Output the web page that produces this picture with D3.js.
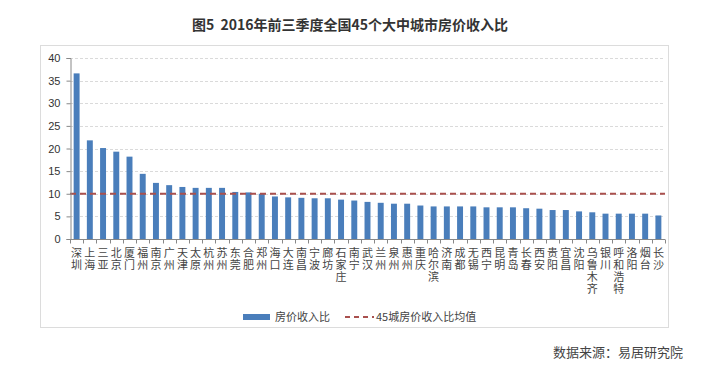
<!DOCTYPE html>
<html><head><meta charset="utf-8">
<script src="https://cdn.jsdelivr.net/npm/d3@7"></script>
<style>
html,body{margin:0;padding:0;background:#fff;}
svg{display:block;font-family:"Noto Sans CJK SC","Microsoft YaHei",sans-serif;}
</style></head>
<body><svg id="c" width="726" height="368"></svg>
<script>
const categories = ["深圳","上海","三亚","北京","厦门","福州","南京","广州","天津","太原","杭州","苏州","东莞","合肥","郑州","海口","大连","南昌","宁波","廊坊","石家庄","南宁","武汉","兰州","泉州","惠州","重庆","哈尔滨","济南","成都","无锡","西宁","昆明","青岛","长春","西安","贵阳","宜昌","沈阳","乌鲁木齐","银川","呼和浩特","洛阳","烟台","长沙"];
const ratios = [36.6,21.8,20.1,19.3,18.2,14.4,12.4,11.9,11.5,11.3,11.3,11.3,10.4,10.3,10.0,9.4,9.2,9.1,9.0,9.0,8.7,8.5,8.2,8.0,7.8,7.8,7.4,7.2,7.2,7.2,7.2,7.0,7.0,7.0,6.8,6.7,6.4,6.4,6.1,5.9,5.6,5.6,5.6,5.6,5.2];
const averages = [10.0];
const yTicks = [0,5,10,15,20,25,30,35,40];
const titleText = "图5  2016年前三季度全国45个大中城市房价收入比";
const seriesName = "房价收入比";
const avgName = "45城房价收入比均值";
const sourceText = "数据来源：易居研究院";

const svg = d3.select("#c");
const m = {left:70, right:665, top:58, bottom:239};
const x = d3.scaleBand().domain(categories).range([m.left, m.right]).paddingInner(0.55).paddingOuter(0.275);
const y = d3.scaleLinear().domain([0,40]).range([m.bottom, m.top]);

// title
svg.append("text").attr("x",350).attr("y",30).attr("text-anchor","middle")
  .style("white-space","pre")
  .attr("font-size",14).attr("font-weight","bold").attr("fill","#333").text(titleText);

// frame
svg.append("rect").attr("x",40.5).attr("y",45.5).attr("width",628).attr("height",282)
  .attr("fill","none").attr("stroke","#dcdcdc");

// grid
svg.append("g").selectAll("line").data(yTicks.filter(d=>d>0)).join("line")
  .attr("x1",m.left).attr("x2",m.right).attr("y1",d=>Math.round(y(d))+0.5).attr("y2",d=>Math.round(y(d))+0.5)
  .attr("stroke","#dadada").attr("stroke-dasharray","3,2");

// bars
svg.append("g").selectAll("rect").data(categories).join("rect")
  .attr("x",d=>x(d)).attr("width",x.bandwidth())
  .attr("y",(d,i)=>y(ratios[i])).attr("height",(d,i)=>y(0)-y(ratios[i]))
  .attr("fill","#4a7ebb");

// average line
svg.append("g").selectAll("line").data(averages).join("line")
  .attr("x1",m.left).attr("x2",m.right).attr("y1",d=>y(d)).attr("y2",d=>y(d))
  .attr("stroke","#a9504e").attr("stroke-width",2).attr("stroke-dasharray","6,4");

// y axis
const ya = svg.append("g").attr("transform",`translate(${m.left+0.5},0)`)
  .call(d3.axisLeft(y).tickValues(yTicks).tickSize(4).tickPadding(6));
ya.select(".domain").attr("stroke","#888");
ya.selectAll(".tick line").attr("stroke","#888");
ya.selectAll("text").attr("font-size",11).attr("fill","#333").attr("font-family","Arial,'Liberation Sans',sans-serif");

// x axis
const xa = svg.append("g").attr("transform",`translate(0,${m.bottom+0.5})`);
xa.append("line").attr("x1",m.left).attr("x2",m.right).attr("stroke","#888");
const bnds = d3.range(categories.length+1).map(i=>m.left + (m.right-m.left)*i/categories.length);
xa.selectAll("line.t").data(bnds).join("line").attr("class","t")
  .attr("x1",d=>Math.round(d)+0.5).attr("x2",d=>Math.round(d)+0.5).attr("y1",0).attr("y2",4).attr("stroke","#888");
svg.append("g").selectAll("text").data(categories).join("text")
  .attr("x",d=>x(d) + x.bandwidth()/2).attr("y",247)
  .style("writing-mode","vertical-rl").style("text-orientation","upright")
  .style("letter-spacing","1px")
  .attr("font-size",11).attr("fill","#444").text(d=>d);

// legend
const lg = svg.append("g");
lg.append("rect").attr("x",243).attr("y",314).attr("width",27).attr("height",6).attr("fill","#4a7ebb");
lg.append("text").attr("x",275).attr("y",321).attr("font-size",11).attr("fill","#444").text(seriesName);
lg.append("line").attr("x1",345).attr("x2",374).attr("y1",317).attr("y2",317)
  .attr("stroke","#a9504e").attr("stroke-width",2).attr("stroke-dasharray","5,4");
lg.append("text").attr("x",376).attr("y",321).attr("font-size",11).attr("fill","#444").text(avgName);

// source
svg.append("text").attr("x",683).attr("y",357).attr("text-anchor","end").attr("font-size",13)
  .attr("fill","#444").text(sourceText);
</script></body></html>
